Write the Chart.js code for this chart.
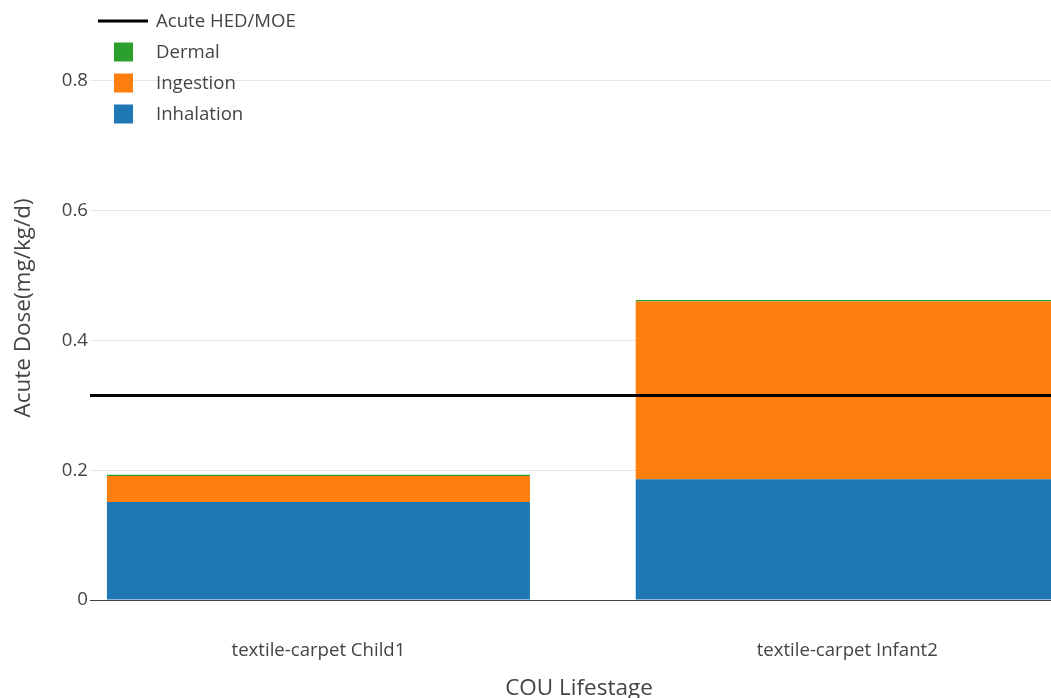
<!DOCTYPE html>
<html>
<head>
<meta charset="utf-8">
<title>Acute Dose by COU Lifestage</title>
<script src="https://cdn.jsdelivr.net/npm/chart.js@4/dist/chart.umd.min.js"></script>
<style>
  html, body { margin: 0; padding: 0; background: #fff; overflow: hidden; width: 1051px; height: 698px; }
  #wrap { width: 1068px; height: 698px; position: relative; }
</style>
</head>
<body>
<div id="wrap"><canvas id="doseChart"></canvas></div>
<script>
// Categories (COU lifestage) and dose components, mg/kg/d
const categories = ['textile-carpet Child1', 'textile-carpet Infant2'];
const inhalation = [0.151, 0.186];
const ingestion  = [0.040, 0.274];
const dermal     = [0.002, 0.0025];
const acuteHed   = 0.315;
const yTicks     = [0, 0.2, 0.4, 0.6, 0.8];
const legendOrder = ['Acute HED/MOE', 'Dermal', 'Ingestion', 'Inhalation'];

const FONT = "'Open Sans', sans-serif";
const TEXT = '#444';
const X_MIN = -0.432, X_MAX = 1.4175;

const asPoints = arr => arr.map((y, i) => ({ x: i, y }));

// Vertical legend in the top-left corner of the plot
const cornerLegend = {
  id: 'cornerLegend',
  afterDraw(chart) {
    const ctx = chart.ctx;
    ctx.save();
    ctx.font = `18.6px ${FONT}`;
    ctx.textBaseline = 'middle';
    ctx.textAlign = 'left';
    legendOrder.forEach((label, i) => {
      const ds = chart.data.datasets.find(d => d.label === label);
      const cy = 21 + i * 31;
      if (ds.type === 'line') {
        ctx.strokeStyle = ds.borderColor;
        ctx.lineWidth = ds.borderWidth;
        ctx.beginPath();
        ctx.moveTo(98, cy);
        ctx.lineTo(148, cy);
        ctx.stroke();
      } else {
        ctx.fillStyle = ds.backgroundColor;
        ctx.fillRect(114, cy - 9.5, 19, 19);
      }
      ctx.fillStyle = TEXT;
      ctx.fillText(label, 156, cy + 1);
    });
    ctx.restore();
  }
};

new Chart(document.getElementById('doseChart'), {
  type: 'bar',
  data: {
    datasets: [
      {
        type: 'line',
        label: 'Acute HED/MOE',
        data: [{ x: X_MIN, y: acuteHed }, { x: X_MAX, y: acuteHed }],
        borderColor: '#000',
        borderWidth: 3,
        pointRadius: 0,
        stack: 'hed',
        order: 0
      },
      { label: 'Inhalation', data: asPoints(inhalation), backgroundColor: '#1f77b4', stack: 'dose', order: 1 },
      { label: 'Ingestion',  data: asPoints(ingestion),  backgroundColor: '#ff7f0e', stack: 'dose', order: 1 },
      { label: 'Dermal',     data: asPoints(dermal),     backgroundColor: '#2ca02c', stack: 'dose', order: 1 }
    ]
  },
  options: {
    responsive: true,
    maintainAspectRatio: false,
    animation: false,
    layout: { padding: { top: 16, left: 0, right: 0, bottom: 0 } },
    datasets: { bar: { barPercentage: 1, categoryPercentage: 0.8, borderWidth: 0 } },
    plugins: { legend: { display: false }, tooltip: { enabled: false } },
    scales: {
      x: {
        type: 'linear',
        min: X_MIN,
        max: X_MAX,
        offset: false,
        stacked: true,
        grid: { display: false, drawTicks: false, offset: false },
        border: { display: false },
        afterBuildTicks: s => { s.ticks = categories.map((_, i) => ({ value: i })); },
        ticks: {
          callback: v => categories[v],
          padding: 40,
          maxRotation: 0,
          autoSkip: false,
          color: TEXT,
          font: { family: FONT, size: 18.6 }
        },
        title: {
          display: true,
          text: 'COU Lifestage',
          color: TEXT,
          font: { family: FONT, size: 22.5, lineHeight: 1 },
          padding: { top: 0, bottom: -2 }
        },
        afterFit: s => { s.height = 98; }
      },
      y: {
        stacked: true,
        min: 0,
        max: 0.9,
        grid: {
          drawTicks: false,
          color: c => (c.tick && c.tick.value === 0 ? '#444' : '#e6e6e6'),
          lineWidth: 1
        },
        border: { display: false },
        afterBuildTicks: s => { s.ticks = yTicks.map(v => ({ value: v })); },
        ticks: {
          callback: v => (v === 0 ? '0' : v.toFixed(1)),
          padding: 2,
          color: TEXT,
          font: { family: FONT, size: 18.6 }
        },
        title: {
          display: true,
          text: 'Acute Dose(mg/kg/d)',
          color: TEXT,
          font: { family: FONT, size: 22.5, lineHeight: 1 },
          padding: { top: 12, bottom: 0 }
        },
        afterFit: s => { s.width = 90; }
      }
    }
  },
  plugins: [cornerLegend]
});
</script>
</body>
</html>
